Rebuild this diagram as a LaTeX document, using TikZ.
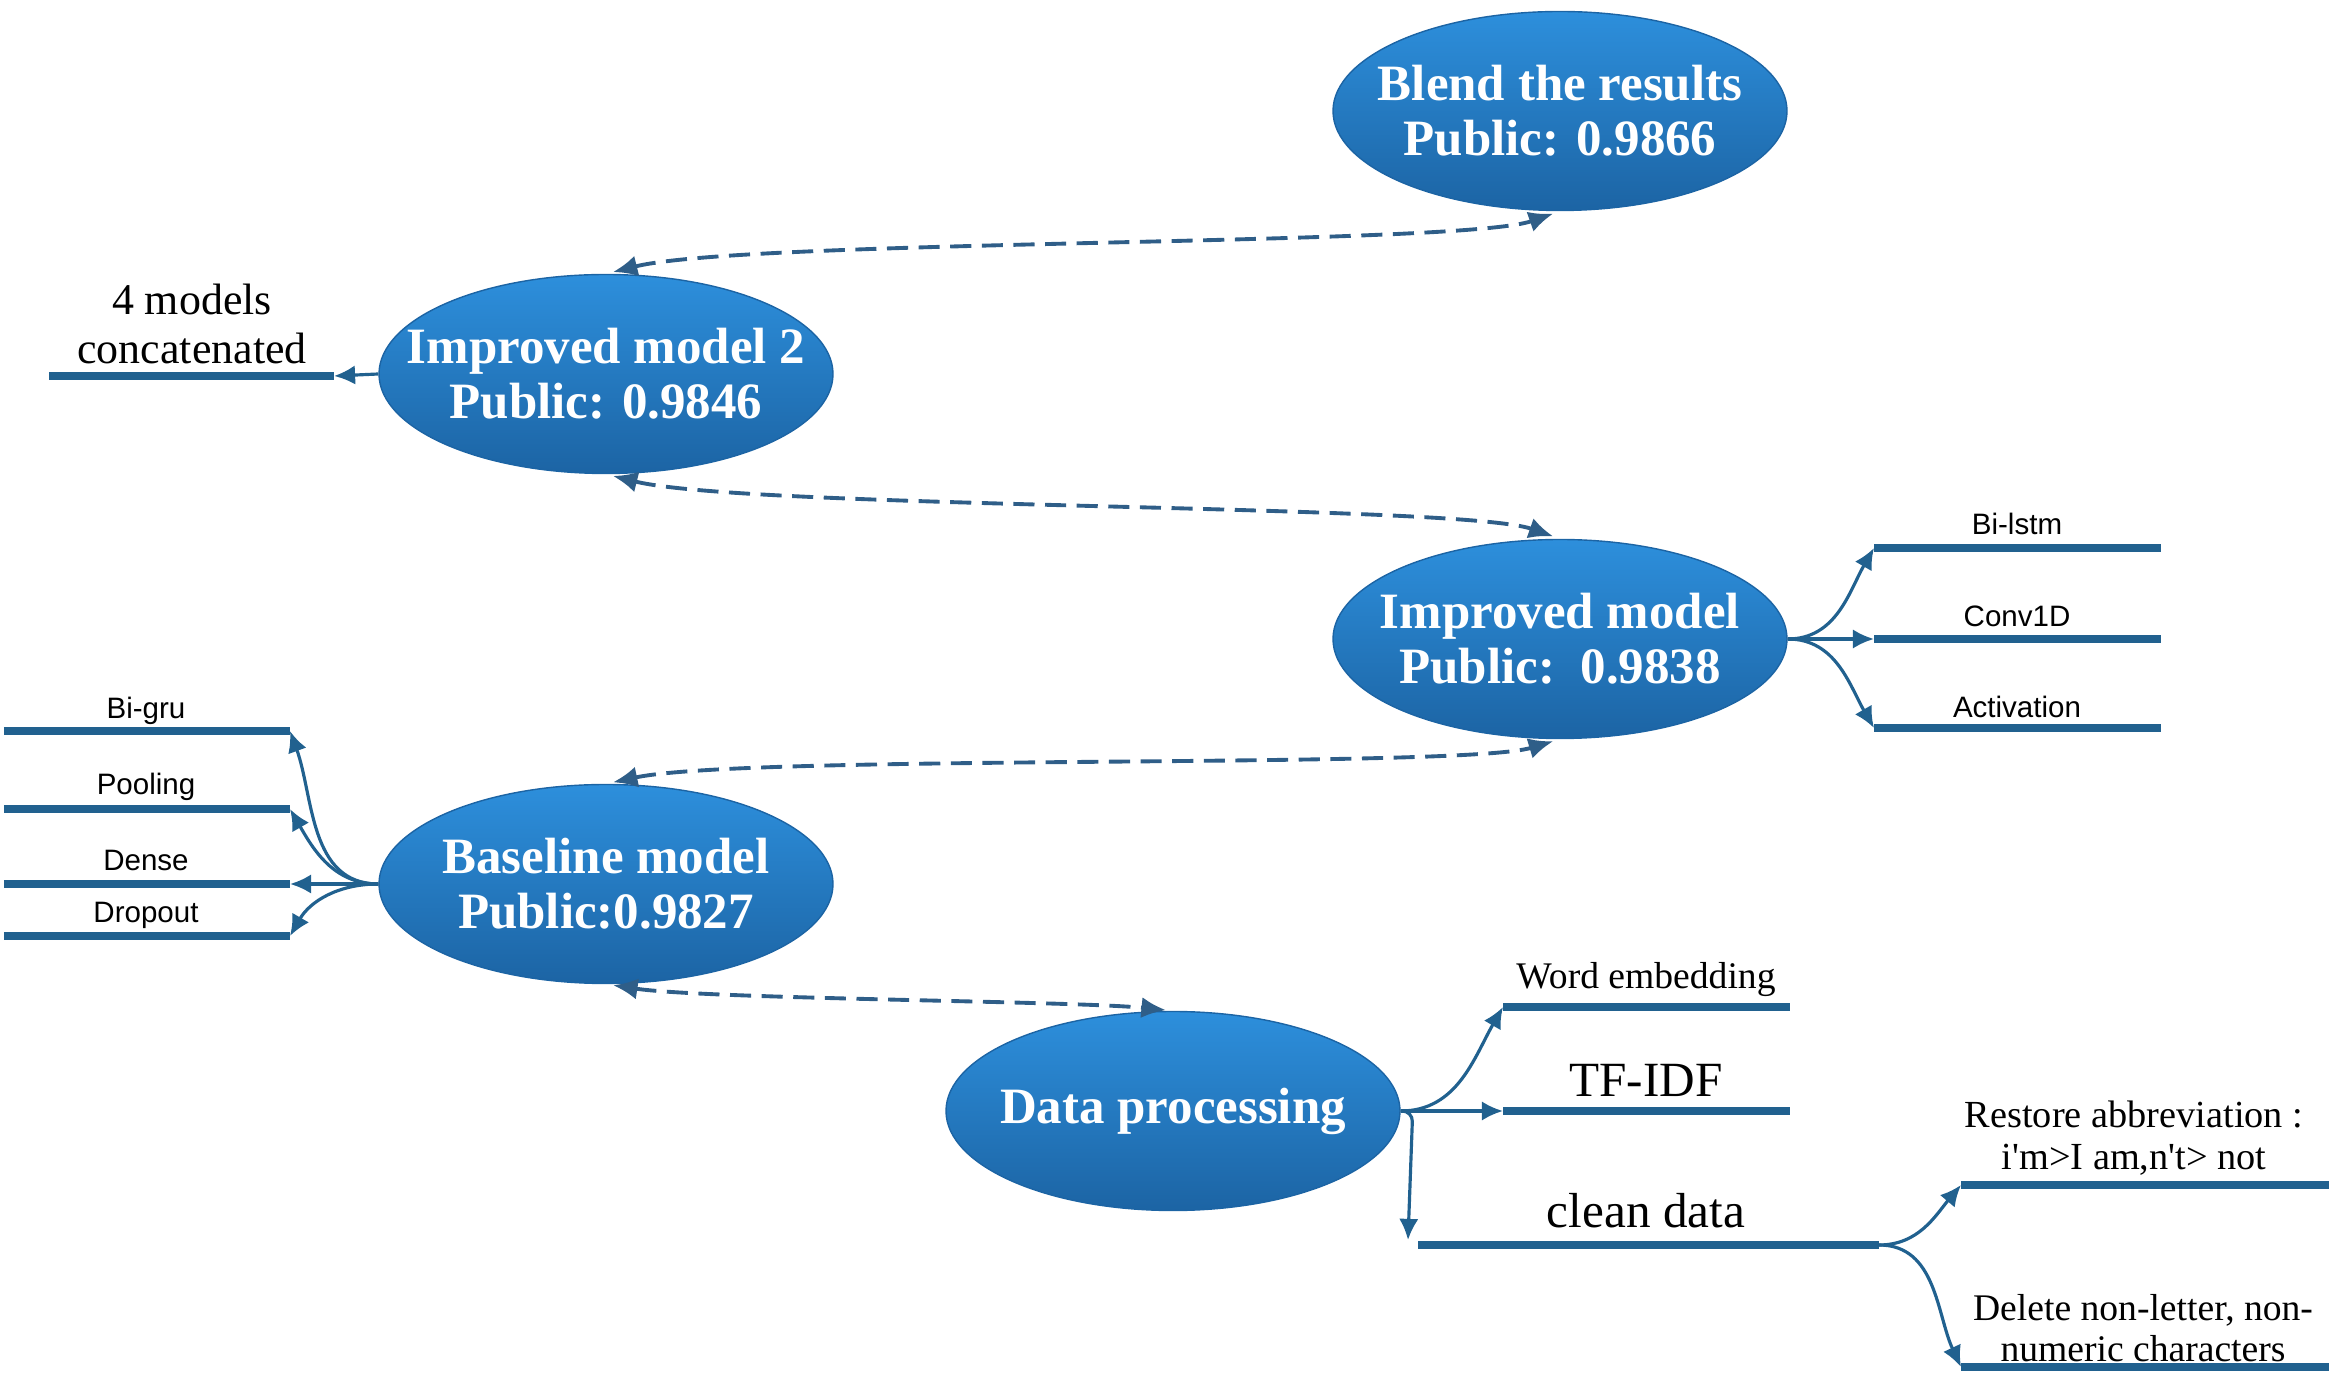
\documentclass[tikz,border=0pt]{standalone}
\usepackage{fontspec}
\setmainfont{Liberation Serif}
\newfontfamily\leafsans{Liberation Sans}
\usetikzlibrary{shapes.geometric,arrows.meta}

\definecolor{ovaltop}{HTML}{2D8FDC}
\definecolor{ovalbot}{HTML}{1C64A4}
\definecolor{branchblue}{HTML}{21618F}
\definecolor{dashblue}{HTML}{2F5E88}

\begin{document}
\begin{tikzpicture}[%
>={Latex[length=6pt,width=5.5pt]},
oval/.style={ellipse, minimum width=4.54cm, minimum height=1.99cm, inner sep=0pt, top color=ovaltop, bottom color=ovalbot, draw=ovalbot, line width=0.4pt},
ovaltext/.style={text=white, align=center, inner sep=0pt, font=\fontsize{14.5}{15.6}\selectfont\bfseries},
link/.style={color=dashblue, line width=1.1pt, dash pattern=on 6pt off 3pt, {Latex[length=7pt,width=6pt]}-{Latex[length=7pt,width=6pt]}, shorten <=2pt, shorten >=2pt},
branch/.style={color=branchblue, line width=0.9pt, ->},
leafline/.style={color=branchblue, line width=2.3pt},
sanslabel/.style={font=\leafsans\fontsize{8.4}{10}\selectfont, text height=1.5ex, text depth=0.25ex, inner sep=0pt},
serlabel/.style={align=center, inner sep=0pt},
]
\useasboundingbox (0,0) rectangle (23.29,-13.75);
%% ellipses;
\node[oval] (blend) at (15.60,-1.11) {};
\node[oval] (imp2) at (6.06,-3.74) {};
\node[oval] (imp) at (15.60,-6.39) {};
\node[oval] (base) at (6.06,-8.84) {};
\node[oval] (data) at (11.73,-11.11) {};
\node[ovaltext] (blendT) at (blend) {Blend the results\\Public: 0.9866};
\node[ovaltext] (imp2T) at (imp2) {Improved model 2\\Public: 0.9846};
\node[ovaltext] (impT) at (imp) {Improved model\\Public:\ \ 0.9838};
\node[ovaltext] (baseT) at (base) {Baseline model\\Public:0.9827};
\node[ovaltext] (dataT) at (data) {Data processing};
%% dashed links;
\draw[link] (imp2.north) .. controls +(1.4,0.35) and +(-1.0,-0.35) .. (blend.south);
\draw[link] (imp2.south) .. controls +(1.4,-0.35) and +(-1.0,0.35) .. (imp.north);
\draw[link] (base.north) .. controls +(1.4,0.3) and +(-1.0,-0.3) .. (imp.south);
\draw[link] (base.south) .. controls +(1.0,-0.15) and +(-1.0,0.1) .. (data.north);
%% leaf lines;
\coordinate (concatL) at (0.49,-3.76); \coordinate (concatR) at (3.34,-3.76);
\coordinate (bilstmL) at (18.74,-5.48); \coordinate (bilstmR) at (21.61,-5.48);
\coordinate (convL) at (18.74,-6.39); \coordinate (convR) at (21.61,-6.39);
\coordinate (actL) at (18.74,-7.28); \coordinate (actR) at (21.61,-7.28);
\coordinate (bigruL) at (0.04,-7.31); \coordinate (bigruR) at (2.90,-7.31);
\coordinate (poolL) at (0.04,-8.09); \coordinate (poolR) at (2.90,-8.09);
\coordinate (denseL) at (0.04,-8.84); \coordinate (denseR) at (2.90,-8.84);
\coordinate (dropL) at (0.04,-9.36); \coordinate (dropR) at (2.90,-9.36);
\coordinate (wordL) at (15.03,-10.07); \coordinate (wordR) at (17.90,-10.07);
\coordinate (tfidfL) at (15.03,-11.11); \coordinate (tfidfR) at (17.90,-11.11);
\coordinate (cleanL) at (14.18,-12.45); \coordinate (cleanR) at (18.79,-12.45);
\coordinate (restL) at (19.61,-11.85); \coordinate (restR) at (23.29,-11.85);
\coordinate (delL) at (19.61,-13.67); \coordinate (delR) at (23.29,-13.67);
\foreach \leaf in {concat,bilstm,conv,act,bigru,pool,dense,drop,word,tfidf,clean,rest,del}
  \draw[leafline] (\leaf L) -- (\leaf R);
%% branches;
\draw[branch] (imp2.west) -- (concatR);
\draw[branch] (imp.east) to[out=0,in=240] (bilstmL);
\draw[branch] (imp.east) -- (convL);
\draw[branch] (imp.east) to[out=0,in=120] (actL);
\draw[branch] (base.west) to[out=180,in=-70] (bigruR);
\draw[branch] (base.west) to[out=180,in=-60] (poolR);
\draw[branch] (base.west) -- (denseR);
\draw[branch] (base.west) to[out=180,in=60] (dropR);
\draw[branch] (data.east) to[out=0,in=240] (wordL);
\draw[branch] (data.east) -- (tfidfL);
\coordinate (cleanA) at (14.08,-12.40);
\draw[branch, rounded corners=3pt] (data.east) -- ++(0.12,0) -- (cleanA);
\draw[branch] (cleanR) to[out=0,in=230] (restL);
\draw[branch] (cleanR) to[out=0,in=115] (delL);
%% labels;
\node[serlabel, font=\fontsize{12.5}{14.2}\selectfont] (concatT) at (1.92,-3.24) {4 models\\concatenated};
\node[sanslabel] (bilstmT) at (20.17,-5.24) {Bi-lstm};
\node[sanslabel] (convT) at (20.17,-6.16) {Conv1D};
\node[sanslabel] (actT) at (20.17,-7.07) {Activation};
\node[sanslabel] (bigruT) at (1.46,-7.08) {Bi-gru};
\node[sanslabel] (poolT) at (1.46,-7.84) {Pooling};
\node[sanslabel] (denseT) at (1.46,-8.60) {Dense};
\node[sanslabel] (dropT) at (1.46,-9.12) {Dropout};
\node[serlabel, font=\fontsize{10.7}{12}\selectfont] (wordT) at (16.46,-9.80) {Word embedding};
\node[serlabel, font=\fontsize{14}{16}\selectfont] (tfidfT) at (16.46,-10.80) {TF-IDF};
\node[serlabel, font=\fontsize{14}{16}\selectfont] (cleanT) at (16.46,-12.11) {clean data};
\node[serlabel, font=\fontsize{10.9}{11.8}\selectfont] (restT) at (21.34,-11.38) {Restore abbreviation :\\i\textquotesingle m>I am,n\textquotesingle t> not};
\node[serlabel, font=\fontsize{10.7}{11.8}\selectfont] (delT) at (21.43,-13.28) {Delete non-letter, non-\\numeric characters};
\end{tikzpicture}
\end{document}
